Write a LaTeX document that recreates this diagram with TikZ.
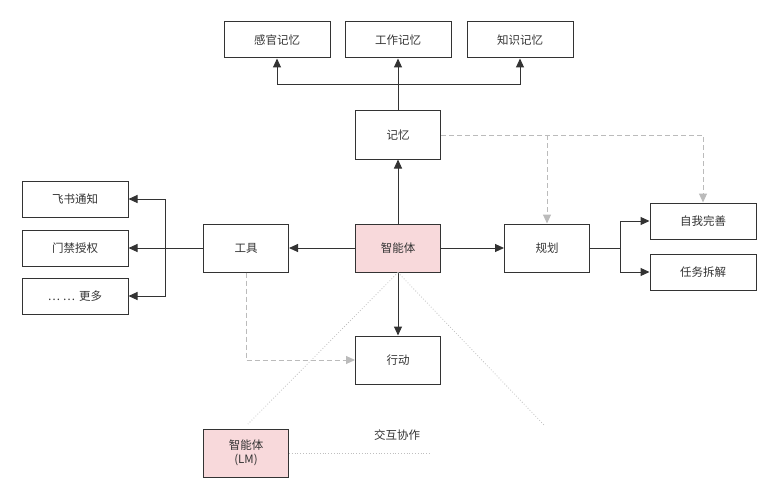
\documentclass[tikz,border=0pt]{standalone}
\usepackage{fontspec}
\setmainfont{Noto Sans CJK SC}
\usetikzlibrary{arrows.meta}
\definecolor{boxline}{HTML}{333333}
\definecolor{pinkfill}{HTML}{F8D9DB}
\definecolor{dashgray}{HTML}{BBBBBB}
\begin{document}
\begin{tikzpicture}[x=1pt,y=-1pt,
  every node/.style={font=\fontsize{11.5}{14}\selectfont, text=black!80},
  bigbox/.style={draw=boxline, line width=1pt, minimum width=85pt, minimum height=48pt, inner sep=0pt, align=center},
  smallbox/.style={draw=boxline, line width=1pt, minimum width=106pt, minimum height=36pt, inner sep=0pt},
  pinkbox/.style={bigbox, fill=pinkfill},
  conn/.style={draw=boxline, line width=1pt, -{Triangle[length=9pt,width=8pt]}},
  plain/.style={draw=boxline, line width=1pt},
  gdash/.style={draw=dashgray, line width=1pt, dash pattern=on 5pt off 3pt, -{Triangle[length=9pt,width=8pt]}},
  gdot/.style={draw=black!25, line width=0.8pt, dotted}]
\useasboundingbox (0,0) rectangle (778,500);
% nodes
\node[smallbox] (sg) at (277,40) {感官记忆};
\node[smallbox] (gz) at (398,40) {工作记忆};
\node[smallbox] (zs) at (520,40) {知识记忆};
\node[bigbox] (jy) at (398,135) {记忆};
\node[pinkbox] (agent) at (398,248) {智能体};
\node[bigbox] (gj) at (246,248) {工具};
\node[bigbox] (gh) at (547,248) {规划};
\node[smallbox] (zw) at (703,221) {自我完善};
\node[smallbox] (rw) at (703,272) {任务拆解};
\node[smallbox] (fs) at (75,199) {飞书通知};
\node[smallbox] (mj) at (75,248) {门禁授权};
\node[smallbox] (gd) at (75,296) {…\hspace{3pt}…\hspace{4pt}更多};
\node[bigbox] (xd) at (398,360) {行动};
\node[pinkbox] (lm) at (246,453) {智能体\\(LM)};
\node (jh) at (397,435) {交互协作};
% coordinates
\coordinate (mbr) at (398,85);
\coordinate (tbr) at (165,248);
\coordinate (pbr) at (620,248);
\coordinate (dEnd1) at (248,424);
\coordinate (dEnd2) at (545,426);
\coordinate (dEnd3) at (430,453);
% memory tree
\draw[plain] (jy.north) -- (mbr);
\draw[conn] (mbr) -- (gz.south);
\draw[conn] (mbr) -| (sg.south);
\draw[conn] (mbr) -| (zs.south);
% agent
\draw[conn] (agent) -- (jy);
\draw[conn] (agent) -- (gj);
\draw[conn] (agent) -- (gh);
\draw[conn] (agent) -- (xd);
% tools
\draw[plain] (gj.west) -- (tbr);
\draw[conn] (tbr) -- (mj.east);
\draw[conn] (tbr) |- (fs.east);
\draw[conn] (tbr) |- (gd.east);
% planning
\draw[plain] (gh.east) -- (pbr);
\draw[conn] (pbr) |- (zw.west);
\draw[conn] (pbr) |- (rw.west);
% dashed
\draw[gdash] (jy.east) -| (zw.north);
\draw[gdash] (gh.north |- jy.east) -- (gh.north);
\draw[gdash] (gj.south) |- (xd.west);
% dotted
\draw[gdot] (agent.south) -- (dEnd1);
\draw[gdot] (agent.south) -- (dEnd2);
\draw[gdot] (lm.east) -- (dEnd3);
\end{tikzpicture}
\end{document}
